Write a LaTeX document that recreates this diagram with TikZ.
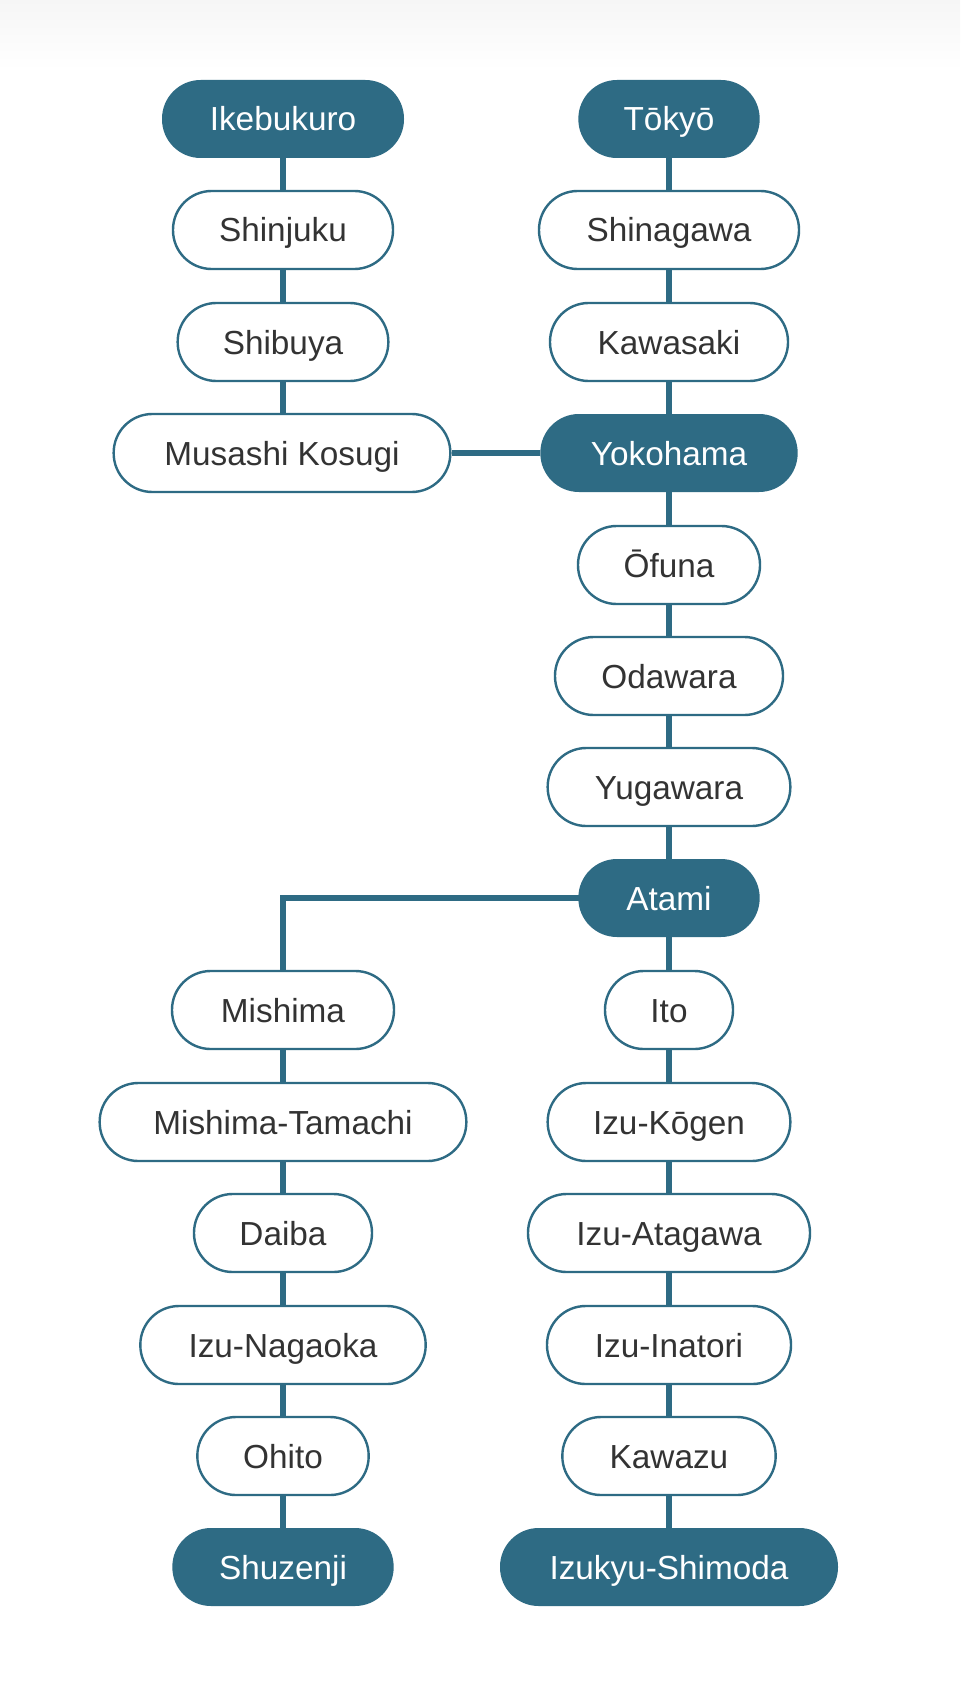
\documentclass[tikz,border=0pt]{standalone}
\usepackage{fontspec}
\setmainfont{Liberation Sans}
\usetikzlibrary{backgrounds}
\definecolor{lineteal}{HTML}{2E6B84}
\definecolor{txt}{HTML}{333333}
\definecolor{topgray}{HTML}{F6F6F6}
\tikzset{
  st/.style={rectangle, rounded corners=29pt, minimum height=58.5pt, inner sep=0pt,
    text height=18pt, text depth=0pt,
    font=\fontsize{25pt}{30pt}\selectfont},
  plain/.style={st, draw=lineteal, line width=1.8pt, fill=white, text=txt},
  term/.style={st, fill=lineteal, text=white},
  link/.style={draw=lineteal, line width=4.6pt},
}
\begin{document}
\begin{tikzpicture}[x=0.75pt,y=-0.75pt]
\useasboundingbox (0,0) rectangle (960,1701);
% left column
\node[term,  minimum width=181.5pt] (ike) at (283,119) {Ikebukuro};
\node[plain, minimum width=165pt]   (shj) at (283,230) {Shinjuku};
\node[plain, minimum width=158pt]   (shb) at (283,342) {Shibuya};
\node[plain, minimum width=252.5pt] (mus) at (282,453) {Musashi Kosugi};
% right column
\node[term,  minimum width=136pt]   (tok) at (669,119) {Tōkyō};
\node[plain, minimum width=195pt]   (shn) at (669,230) {Shinagawa};
\node[plain, minimum width=178.5pt] (kaw) at (669,342) {Kawasaki};
\node[term,  minimum width=193pt]   (yok) at (669,453) {Yokohama};
\node[plain, minimum width=136.5pt] (ofu) at (669,565) {Ōfuna};
\node[plain, minimum width=171pt]   (oda) at (669,676) {Odawara};
\node[plain, minimum width=182pt]   (yug) at (669,787) {Yugawara};
\node[term,  minimum width=136pt]   (ata) at (669,898) {Atami};
\node[plain, minimum width=96pt]    (ito) at (669,1010) {Ito};
\node[plain, minimum width=182pt]   (izk) at (669,1122) {Izu-Kōgen};
\node[plain, minimum width=211.5pt] (iza) at (669,1233) {Izu-Atagawa};
\node[plain, minimum width=183pt]   (izi) at (669,1345) {Izu-Inatori};
\node[plain, minimum width=160pt]   (kwz) at (669,1456) {Kawazu};
\node[term,  minimum width=253.5pt] (shi) at (669,1567) {Izukyu-Shimoda};
% lower left column
\node[plain, minimum width=166.5pt] (mis) at (283,1010) {Mishima};
\node[plain, minimum width=275pt]   (mit) at (283,1122) {Mishima-Tamachi};
\node[plain, minimum width=133.5pt] (dai) at (283,1233) {Daiba};
\node[plain, minimum width=214pt]   (nag) at (283,1345) {Izu-Nagaoka};
\node[plain, minimum width=128.5pt] (ohi) at (283,1456) {Ohito};
\node[term,  minimum width=166pt]   (shu) at (283,1567) {Shuzenji};
\begin{scope}[on background layer]
  \fill[white] (0,0) rectangle (960,1701);
  \shade[top color=topgray, bottom color=white] (0,0) rectangle (960,70);
  \draw[link] (ike) -- (shj);
  \draw[link] (shj) -- (shb);
  \draw[link] (shb) -- (283,453);
  \draw[link] (mus) -- (yok);
  \draw[link] (tok) -- (shn);
  \draw[link] (shn) -- (kaw);
  \draw[link] (kaw) -- (yok);
  \draw[link] (yok) -- (ofu);
  \draw[link] (ofu) -- (oda);
  \draw[link] (oda) -- (yug);
  \draw[link] (yug) -- (ata);
  \draw[link] (ata) -- (ito);
  \draw[link] (ito) -- (izk);
  \draw[link] (izk) -- (iza);
  \draw[link] (iza) -- (izi);
  \draw[link] (izi) -- (kwz);
  \draw[link] (kwz) -- (shi);
  \draw[link] (ata.center) -| (mis.center);
  \draw[link] (mis) -- (mit);
  \draw[link] (mit) -- (dai);
  \draw[link] (dai) -- (nag);
  \draw[link] (nag) -- (ohi);
  \draw[link] (ohi) -- (shu);
\end{scope}
\end{tikzpicture}
\end{document}
